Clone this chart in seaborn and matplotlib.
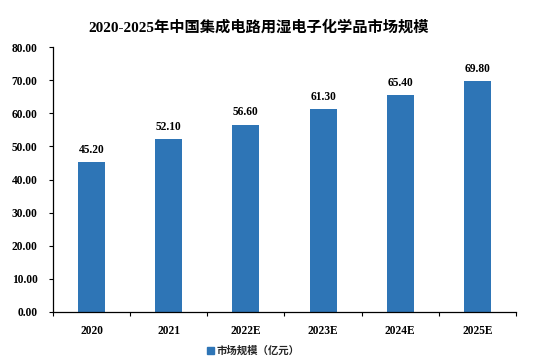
import matplotlib
matplotlib.use("Agg")
import matplotlib.pyplot as plt
import seaborn as sns
import pandas as pd
import numpy as np
from matplotlib.ticker import FixedLocator, FormatStrFormatter
from matplotlib.patches import Patch

categories = ["2020", "2021", "2022E", "2023E", "2024E", "2025E"]
values = [45.20, 52.10, 56.60, 61.30, 65.40, 69.80]
series_name = "市场规模（亿元）"
title = "2020-2025年中国集成电路用湿电子化学品市场规模"

sns.set_theme(style="white")
plt.rcParams['font.family'] = ['Liberation Serif', 'Noto Sans CJK SC']
plt.rcParams['font.weight'] = 'bold'

df = pd.DataFrame({"cat": categories, "val": values})
color = "#2E75B6"

fig = plt.figure(figsize=(5.51, 3.64), dpi=100)
ax = fig.add_axes([53/551, 1-312/364, (516-53)/551, (312-47)/364])
sns.barplot(data=df, x="cat", y="val", color=color, width=0.35, ax=ax,
            saturation=1, linewidth=0, edgecolor=color)

ax.set_ylim(0, 80)
ax.set_xlim(-0.5, 5.5)
ax.set_yticks(np.arange(0, 81, 10))
ax.yaxis.set_major_formatter(FormatStrFormatter("%.2f"))
ax.set_xlabel("")
ax.set_ylabel("")
for s in ["top", "right"]:
    ax.spines[s].set_visible(False)
for s in ["left", "bottom"]:
    ax.spines[s].set_color("black")
    ax.spines[s].set_linewidth(0.9)

ax.tick_params(axis="y", which="major", direction="out", length=3, width=0.8,
               color="black", labelsize=8.3, pad=8, left=True)
ax.tick_params(axis="x", which="major", length=0, labelsize=8.3, pad=9)
ax.xaxis.set_minor_locator(FixedLocator(np.arange(-0.5, 6.0, 1.0)))
ax.tick_params(axis="x", which="minor", direction="out", length=3, width=0.8,
               color="black", bottom=True)
for lab in ax.get_xticklabels() + ax.get_yticklabels():
    lab.set_fontweight("bold")
    lab.set_color("black")

for i, v in enumerate(values):
    ax.annotate(f"{v:.2f}", (i, v), xytext=(0, 4.5), textcoords="offset points",
                ha="center", va="bottom", fontsize=8.3, fontweight="bold", color="black")

fig.text(259/551, 1-27/364, title, ha="center", va="center", fontsize=11,
         fontweight="bold", color="black",
         family=['Liberation Serif', 'Noto Sans CJK SC'])

handles = [Patch(facecolor=color, edgecolor=color)]
leg = fig.legend(handles, [series_name], loc="center", bbox_to_anchor=(0.46, 1-351/364),
                 frameon=False, handlelength=0.6, handleheight=0.6, handletextpad=0.3,
                 prop={"family": ["Noto Sans CJK SC"], "weight": "bold", "size": 7.5})

fig.savefig("out.png", dpi=100)
